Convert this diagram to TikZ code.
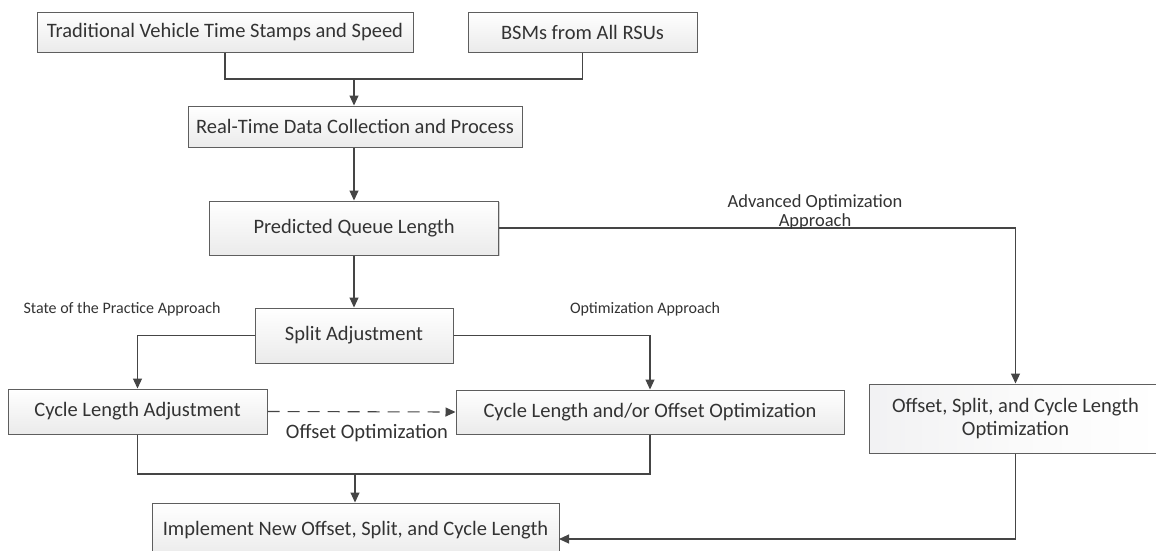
\documentclass[tikz,border=0pt]{standalone}
\usepackage{fontspec}
\setmainfont{Carlito}
\usetikzlibrary{arrows.meta,shadows}
\definecolor{linegray}{HTML}{454545}
\definecolor{boxedge}{HTML}{5E5E5E}
\definecolor{txt}{HTML}{333333}
\tikzset{
  box/.style={draw=boxedge, line width=1pt, top color=white, bottom color=gray!16,
    text=txt, font=\fontsize{20.5}{23}\selectfont, inner sep=2pt, align=center,
    drop shadow={shadow xshift=1.2pt, shadow yshift=-1.2pt, fill=black, opacity=0.18}},
  bluebox/.style={box, left color=blue!6!gray!10, right color=white, middle color=white!96!gray},
  link/.style={draw=linegray, line width=1.1pt},
  arr/.style={link, -{Triangle[length=10pt,width=9pt]}},
  lbl/.style={text=txt, font=\fontsize{16}{19}\selectfont, inner sep=0pt, align=center},
}
\begin{document}
\begin{tikzpicture}[x=1pt,y=-1pt]
\clip (0,0) rectangle (1156,550);
\fill[white] (0,0) rectangle (1156,550);

% process boxes
\node[box, minimum width=376pt, minimum height=40pt] (trad) at (225,32) {Traditional Vehicle Time Stamps and Speed};
\node[box, minimum width=229pt, minimum height=40pt] (bsm) at (582.5,32) {BSMs from All RSUs};
\node[box, minimum width=334pt, minimum height=41pt] (rt) at (355,126.5) {Real-Time Data Collection and Process};
\node[box, minimum width=289pt, minimum height=54pt] (pql) at (354,228) {Predicted Queue Length};
\node[box, minimum width=198pt, minimum height=55pt] (split) at (354,335.5) {Split Adjustment};
\node[box, minimum width=259pt, minimum height=45pt] (cla) at (137.5,411.5) {Cycle Length Adjustment};
\node[box, minimum width=388pt, minimum height=44pt] (cloo) at (650,412) {Cycle Length and/or Offset Optimization};
\node[bluebox, minimum width=293pt, minimum height=69pt] (oscl) at (1015.5,418.5) {Offset, Split, and Cycle Length\\Optimization};
\node[box, minimum width=407pt, minimum height=54pt] (impl) at (355.5,530) {Implement New Offset, Split, and Cycle Length};

% junction points
\coordinate (j1) at (354,79);
\coordinate (j2) at (355,474);
\coordinate (inimpl) at (559,539);

% connectors
\draw[link] (trad.south) |- (j1);
\draw[link] (bsm.south) |- (j1);
\draw[arr] (j1) -- (j1 |- rt.north);
\draw[arr] (rt.south -| pql.north) -- (pql.north);
\draw[arr] (pql.south) -- (split.north);
\draw[arr] (pql.east) -| (oscl.north);
\draw[arr] (split.west) -| (cla.north);
\draw[arr] (split.east) -| (cloo.north);
\draw[arr, dashed, dash pattern=on 12pt off 8pt] (cla.east) -- (cloo.west);
\draw[link] (cla.south) |- (j2);
\draw[link] (cloo.south) |- (j2);
\draw[arr] (j2) -- (j2 |- impl.north);
\draw[arr] (oscl.south) |- (inimpl);

% path labels
\node[lbl, font=\fontsize{18.5}{19}\selectfont] (advl) at (815,212) {Advanced Optimization\\Approach};
\node[lbl] (spl) at (122,309) {State of the Practice Approach};
\node[lbl] (opl) at (645,309) {Optimization Approach};
\node[lbl, font=\fontsize{20.5}{23}\selectfont] (ofl) at (367,433) {Offset Optimization};
\end{tikzpicture}
\end{document}
